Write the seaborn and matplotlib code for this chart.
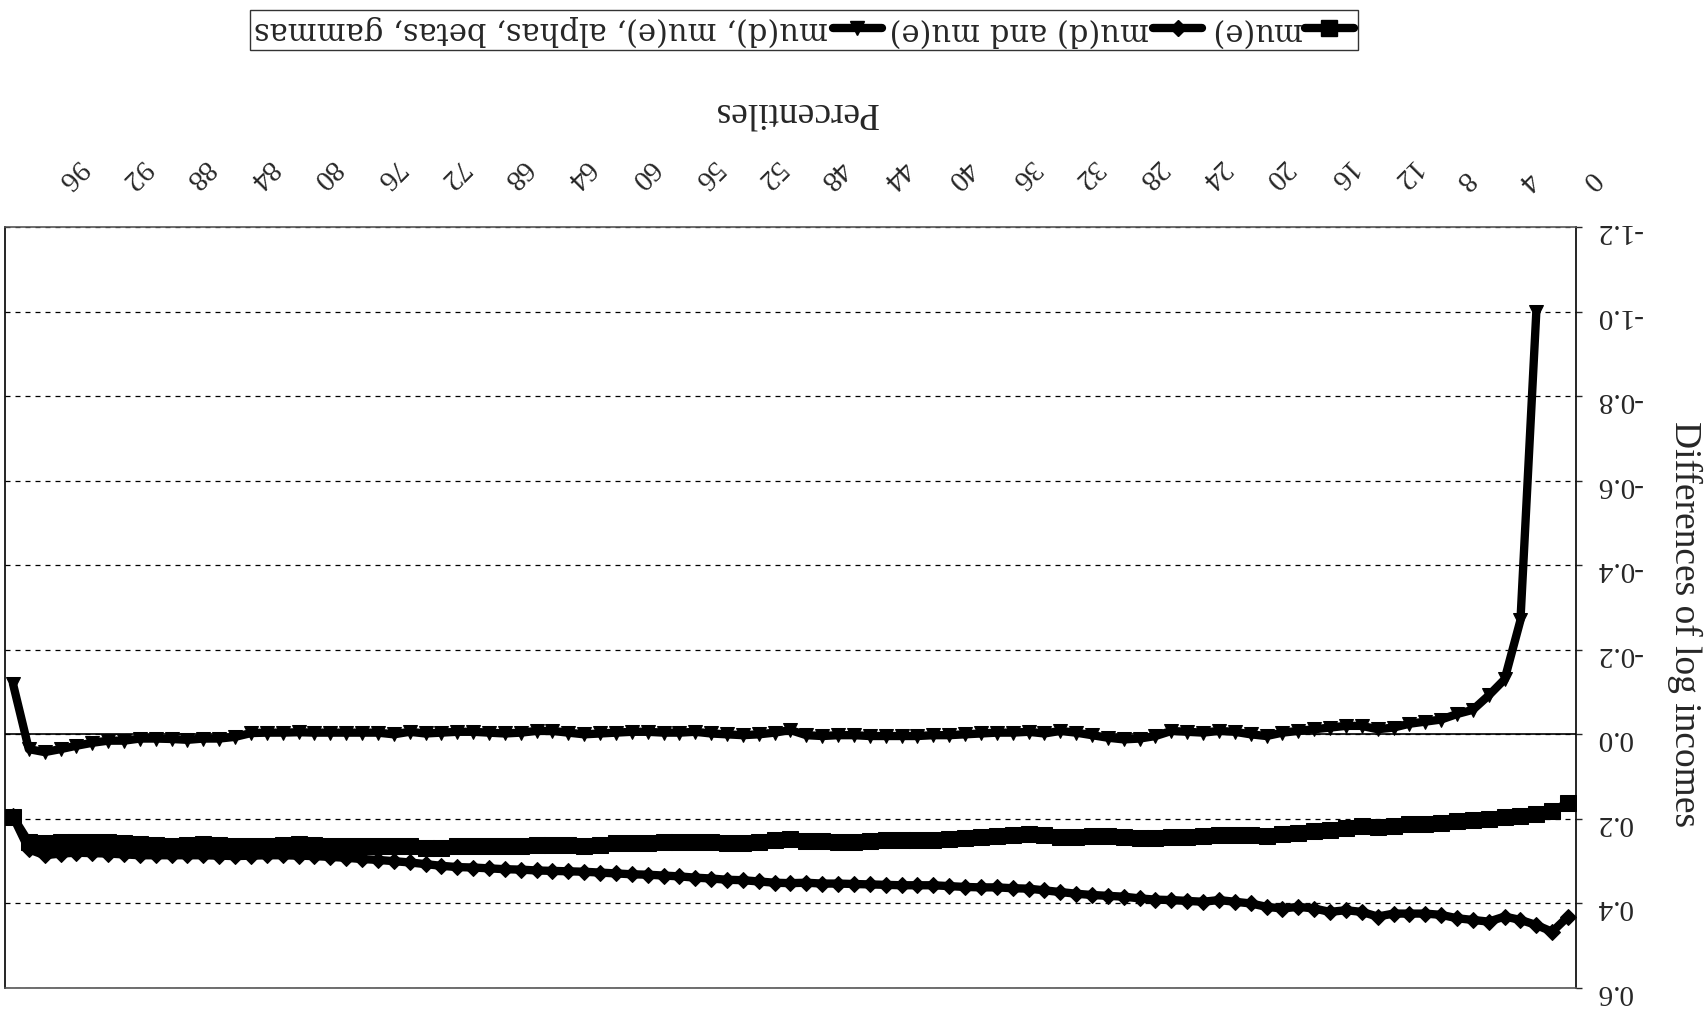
import matplotlib
matplotlib.use("Agg")
import matplotlib.pyplot as plt
import matplotlib.transforms as mtransforms
from matplotlib.lines import Line2D
import pandas as pd
import seaborn as sns

# Chart data (the picture is printed upside down, so it is drawn rotated 180 deg)
categories = list(range(99))

mu_e = [
    0.162, 0.182, 0.188, 0.192, 0.196, 0.200, 0.202, 0.204, 0.209, 0.212,
    0.212, 0.217, 0.220, 0.217, 0.221, 0.227, 0.229, 0.233, 0.235, 0.240,
    0.238, 0.238, 0.238, 0.241, 0.242, 0.244, 0.245, 0.246, 0.244, 0.241,
    0.240, 0.244, 0.243, 0.237, 0.236, 0.238, 0.241, 0.243, 0.245, 0.247,
    0.250, 0.250, 0.250, 0.251, 0.253, 0.254, 0.255, 0.252, 0.253, 0.248,
    0.250, 0.254, 0.256, 0.256, 0.255, 0.255, 0.254, 0.254, 0.256, 0.256,
    0.258, 0.262, 0.263, 0.262, 0.262, 0.262, 0.263, 0.263, 0.263, 0.264,
    0.264, 0.270, 0.268, 0.263, 0.264, 0.264, 0.265, 0.264, 0.264, 0.262,
    0.260, 0.262, 0.263, 0.264, 0.264, 0.262, 0.260, 0.261, 0.263, 0.262,
    0.259, 0.258, 0.255, 0.255, 0.254, 0.254, 0.258, 0.255, 0.195,
]

mu_d_and_mu_e = [
    0.431, 0.467, 0.451, 0.439, 0.431, 0.443, 0.439, 0.435, 0.427, 0.424,
    0.424, 0.424, 0.431, 0.420, 0.416, 0.420, 0.412, 0.408, 0.412, 0.408,
    0.400, 0.396, 0.392, 0.396, 0.394, 0.392, 0.391, 0.388, 0.384, 0.382,
    0.380, 0.377, 0.373, 0.369, 0.365, 0.364, 0.362, 0.362, 0.361, 0.359,
    0.357, 0.357, 0.357, 0.356, 0.355, 0.354, 0.353, 0.353, 0.351, 0.352,
    0.351, 0.348, 0.345, 0.344, 0.341, 0.339, 0.336, 0.334, 0.332, 0.331,
    0.329, 0.327, 0.325, 0.324, 0.323, 0.322, 0.320, 0.319, 0.317, 0.315,
    0.314, 0.311, 0.307, 0.303, 0.300, 0.297, 0.295, 0.292, 0.290, 0.288,
    0.287, 0.286, 0.286, 0.287, 0.288, 0.287, 0.286, 0.286, 0.286, 0.286,
    0.286, 0.284, 0.282, 0.281, 0.280, 0.282, 0.286, 0.272, 0.194,
]

# full model starts at category 2
full_cats = categories[2:]
full_model = [
    -1.000, -0.270, -0.130, -0.092, -0.058, -0.048, -0.035, -0.030,
    -0.025, -0.016, -0.012, -0.020, -0.020, -0.016, -0.012, -0.008,
    -0.004, 0.004, 0.000, -0.006, -0.008, -0.004, -0.006, -0.008,
    0.004, 0.010, 0.012, 0.008, 0.002, -0.004, -0.008, -0.002,
    -0.006, -0.004, -0.004, -0.002, 0.000, 0.002, 0.002, 0.004,
    0.004, 0.004, 0.004, 0.002, 0.002, 0.004, 0.002, -0.010,
    -0.004, 0.000, 0.002, 0.000, -0.002, -0.006, -0.004, -0.004,
    -0.006, -0.006, -0.004, -0.002, 0.000, -0.004, -0.008, -0.008,
    -0.004, -0.002, -0.004, -0.006, -0.006, -0.004, -0.002, -0.006,
    0.000, -0.004, -0.004, -0.004, -0.004, -0.004, -0.005, -0.004,
    -0.004, -0.003, 0.006, 0.010, 0.010, 0.013, 0.011, 0.010,
    0.010, 0.015, 0.015, 0.020, 0.027, 0.035, 0.042, 0.035,
    -0.120,
]

series_names = ["mu(e)", "mu(d) and mu(e)", "mu(d), mu(e), alphas, betas, gammas"]

x_tick_pos = list(range(0, 97, 4))
x_tick_labels = [str(v) for v in x_tick_pos]
y_ticks = [-1.2, -1.0, -0.8, -0.6, -0.4, -0.2, 0.0, 0.2, 0.4, 0.6]
y_tick_labels = ["-1.2", "-1.0", "-0.8", "-0.6", "-0.4", "-0.2", "0.0", "0.2", "0.4", "0.6"]

sns.set_style("white")
plt.rcParams["font.family"] = ["Liberation Serif", "DejaVu Serif"]
serif = "Liberation Serif"

fig = plt.figure(figsize=(17.04, 10.12), dpi=100)
ax = fig.add_axes([5 / 1704, 1 - 989 / 1012, 1571 / 1704, 761 / 1012])

df_e = pd.DataFrame({"cat": categories, "val": mu_e})
df_de = pd.DataFrame({"cat": categories, "val": mu_d_and_mu_e})
df_full = pd.DataFrame({"cat": full_cats, "val": full_model})

line_kw = dict(color="black", linewidth=6, markeredgecolor="black", zorder=3)
sns.lineplot(data=df_e, x="cat", y="val", marker="s", markersize=12, ax=ax, **line_kw)
sns.lineplot(data=df_de, x="cat", y="val", marker="D", markersize=8.5, ax=ax, **line_kw)
sns.lineplot(data=df_full, x="cat", y="val", marker="v", markersize=10, ax=ax, **line_kw)

# inverted axes = upside-down chart
ax.set_xlim(98.5, -0.5)
ax.set_ylim(0.6, -1.2)

ax.axhline(0.0, color="black", linewidth=1.2, zorder=2)
ax.set_yticks(y_ticks)
ax.set_yticklabels(y_tick_labels)
ax.yaxis.grid(True, linestyle=(0, (4, 4)), color="black", linewidth=0.9)
ax.xaxis.grid(False)

ax.yaxis.tick_right()
ax.tick_params(axis="y", which="major", right=True, left=False, direction="out",
               length=4, width=1, pad=10, labelsize=21, labelrotation=180)
for lab in ax.get_yticklabels():
    lab.set_fontfamily(serif)

ax.xaxis.tick_top()
ax.set_xticks(x_tick_pos)
ax.set_xticklabels(x_tick_labels)
ax.tick_params(axis="x", top=True, bottom=False, length=0, pad=31, labelsize=21)
shift = mtransforms.ScaledTranslation(17 / 100, 0, fig.dpi_scale_trans)
for lab in ax.get_xticklabels():
    lab.set_fontfamily(serif)
    lab.set_rotation(225)
    lab.set_rotation_mode("anchor")
    lab.set_ha("right")
    lab.set_va("center")
    lab.set_transform(lab.get_transform() + shift)

ax.set_xlabel("Percentiles", fontsize=27, fontfamily=serif, rotation=180,
              ha="center", va="center")
ax.xaxis.set_label_coords(0.5035, 1.152)
ax.set_ylabel("Differences of log incomes", fontsize=27, fontfamily=serif,
              rotation=270, ha="center", va="center")
ax.yaxis.set_label_coords(1.0688, 0.4796)

for side in ["left", "right"]:
    ax.spines[side].set_color("black")
    ax.spines[side].set_linewidth(1.2)
for side in ["top", "bottom"]:
    ax.spines[side].set_color("#555555")
    ax.spines[side].set_linewidth(1.2)

handles = [
    Line2D([], [], color="black", lw=6, marker="v", markersize=10),
    Line2D([], [], color="black", lw=6, marker="D", markersize=8.5),
    Line2D([], [], color="black", lw=6, marker="s", markersize=12),
]
leg = fig.legend(handles, series_names[::-1], loc="center",
                 bbox_to_anchor=(804 / 1704, 1 - 31 / 1012), ncol=3,
                 markerfirst=False, frameon=True, fancybox=False,
                 handlelength=1.6, handletextpad=0.15, columnspacing=0.25,
                 borderpad=0.15, prop={"family": "DejaVu Serif", "size": 22})
leg.get_frame().set_edgecolor("black")
leg.get_frame().set_linewidth(1.0)
for t in leg.get_texts():
    t.set_rotation(180)

fig.savefig("out.png", dpi=100, facecolor="white")
